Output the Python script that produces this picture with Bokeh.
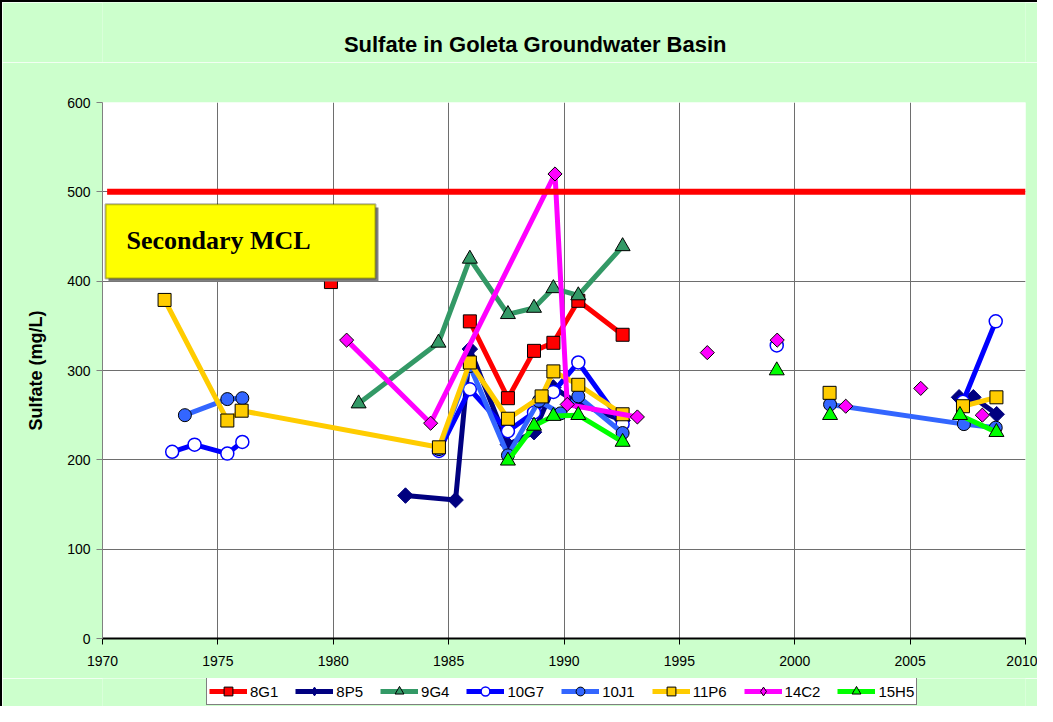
import math
from bokeh.plotting import figure
from bokeh.layouts import column
from bokeh.models import (Range1d, FixedTicker, Legend, LegendItem, BoxAnnotation, Label)
from bokeh.embed import file_html
from bokeh.resources import INLINE

nan = float("nan")

# ---------------- data ----------------
years_8G1 = [1979.9, nan, 1985.92, 1987.57, 1988.70, 1989.54, 1990.62, 1992.54]
so4_8G1 = [399, nan, 355, 269, 322, 331, 378, 340]

years_8P5 = [1983.13, 1985.30, 1985.92, 1987.57, 1988.70, 1989.54, 1990.62, 1992.54, nan, 2007.12, 2007.74, 2008.75]
so4_8P5 = [160, 155, 324, 217, 231, 281, 263, 244, nan, 270, 270, 251]

years_9G4 = [1981.10, 1984.56, 1985.92, 1987.57, 1988.70, 1989.54, 1990.62, 1992.54]
so4_9G4 = [263, 331, 425, 363, 370, 392, 384, 439]

years_10G7 = [1973.02, 1973.99, 1975.41, 1976.06, nan, 1984.58, 1985.92, 1987.57, 1988.70, 1989.54, 1990.62, 1992.54, nan, 1999.22, nan, 2007.29, 2008.71]
so4_10G7 = [209, 217, 207, 220, nan, 210, 279, 232, 253, 276, 309, 240, nan, 328, nan, 265, 355]

years_10J1 = [1973.57, 1975.41, 1976.06, nan, 1984.58, 1985.92, 1987.57, 1988.91, 1989.85, 1990.62, 1992.54, nan, 2001.53, 2007.33, 2008.71]
so4_10J1 = [250, 268, 269, nan, 212, 305, 205, 266, 252, 271, 230, nan, 262, 240, 236]

years_11P6 = [1972.69, 1975.41, 1976.03, 1984.58, 1985.92, 1987.57, 1989.03, 1989.54, 1990.62, 1992.54, nan, 2001.51, nan, 2007.29, 2008.74]
so4_11P6 = [379, 244, 255, 214, 309, 246, 271, 299, 284, 251, nan, 275, nan, 260, 270]

years_14C2 = [1980.58, 1984.22, 1989.61, 1990.14, 1993.18, nan, 1996.21, nan, 1999.24, nan, 2002.21, nan, 2005.46, nan, 2008.13]
so4_14C2 = [334, 241, 520, 262, 248, nan, 320, nan, 334, nan, 260, nan, 280, nan, 250]

years_15H5 = [1987.57, 1988.70, 1989.54, 1990.62, 1992.54, nan, 1999.22, nan, 2001.53, nan, 2007.16, 2008.74]
so4_15H5 = [199, 238, 249, 250, 220, nan, 300, nan, 250, nan, 250, 231]

mcl_years = [1970.2, 2010.0]
mcl_level = [500, 500]

x_ticks = [1970, 1975, 1980, 1985, 1990, 1995, 2000, 2005, 2010]
y_ticks = [0, 100, 200, 300, 400, 500, 600]

series = [
    # name, years, values, line colour, marker, legend marker, fill, outline, size, angle
    ("8G1", years_8G1, so4_8G1, "#FF0000", "square", "square", "#FF0000", "black", 13, 0.0),
    ("8P5", years_8P5, so4_8P5, "#000080", "square", "diamond", "#000080", "#000080", 11, math.pi / 4),
    ("9G4", years_9G4, so4_9G4, "#339966", "triangle", "triangle", "#339966", "black", 15, 0.0),
    ("10G7", years_10G7, so4_10G7, "#0000FF", "circle", "circle", "#FFFFFF", "#0000FF", 13, 0.0),
    ("10J1", years_10J1, so4_10J1, "#3366FF", "circle", "circle", "#3366FF", "black", 13, 0.0),
    ("11P6", years_11P6, so4_11P6, "#FFCC00", "square", "square", "#FFCC00", "black", 13, 0.0),
    ("14C2", years_14C2, so4_14C2, "#FF00FF", "square", "diamond", "#FF00FF", "black", 10, math.pi / 4),
    ("15H5", years_15H5, so4_15H5, "#00FF00", "triangle", "triangle", "#00FF00", "black", 15, 0.0),
]

TITLE = "Sulfate in Goleta Groundwater Basin"
Y_LABEL = "Sulfate (mg/L)"
MCL_NOTE = "Secondary MCL"

SANS = "Liberation Sans"
BG = "#CCFFCC"
W = 1035


def strip(height):
    s = figure(width=W, height=height, output_backend="svg", toolbar_location=None,
               x_range=Range1d(0, 1), y_range=Range1d(0, 1),
               x_axis_location=None, y_axis_location=None,
               min_border=0, min_border_left=0, min_border_right=0,
               min_border_top=0, min_border_bottom=0,
               background_fill_color=BG, border_fill_color=BG)
    s.outline_line_color = None
    s.grid.visible = False
    return s


# ---- title strip (its frame is aligned with the chart frame below) ----
pt = strip(60)
pt.add_layout(Label(x=0.4688, y=18 / 60, text=TITLE, text_font=SANS, text_font_size="22px",
                    text_font_style="bold", text_color="black",
                    text_align="center", text_baseline="middle"))

# ---- main chart ----
p = figure(width=W, height=616, output_backend="svg", toolbar_location=None,
           x_range=Range1d(1970, 2010), y_range=Range1d(0, 600),
           min_border_left=100, min_border_right=12, min_border_top=40, min_border_bottom=40,
           background_fill_color="white", border_fill_color=BG)
p.outline_line_color = None

p.xaxis.ticker = FixedTicker(ticks=x_ticks)
p.yaxis.ticker = FixedTicker(ticks=y_ticks)
for ax in (p.xaxis[0], p.yaxis[0]):
    ax.major_label_text_font = SANS
    ax.major_label_text_font_size = "14px"
    ax.major_label_text_color = "black"
    ax.minor_tick_line_color = None
    ax.major_tick_in = 0
    ax.major_tick_out = 6
p.xaxis.axis_line_color = "black"
p.xaxis.axis_line_width = 2
p.xaxis.major_tick_line_color = "black"
p.xaxis.major_label_standoff = 11
p.yaxis.axis_line_color = "#808080"
p.yaxis.major_tick_line_color = "#808080"
p.yaxis.major_label_standoff = 6
p.yaxis.axis_label = Y_LABEL
p.yaxis.axis_label_text_font = SANS
p.yaxis.axis_label_text_font_size = "18px"
p.yaxis.axis_label_text_font_style = "bold"
p.yaxis.axis_label_text_color = "black"
p.yaxis.axis_label_standoff = 18

p.xgrid.ticker = FixedTicker(ticks=x_ticks)
p.ygrid.ticker = FixedTicker(ticks=y_ticks)
p.xgrid.grid_line_color = "#6E6E6E"
p.ygrid.grid_line_color = "#6E6E6E"

# ---- legend strip ----
pl = strip(28)

items = []
for name, xs, ys, lc, mk, lmk, fc, oc, sz, ang in series:
    lw = 1.5 if name == "10G7" else 1
    p.line(xs, ys, line_color=lc, line_width=5)
    p.scatter(xs, ys, marker=mk, size=sz, angle=ang, fill_color=fc, line_color=oc, line_width=lw)
    # same series in the legend strip (outside its 0..1 view, only the legend glyphs show)
    lr = pl.line(xs, ys, line_color=lc, line_width=5)
    sr = pl.scatter(xs, ys, marker=lmk, size=sz, fill_color=fc, line_color=oc, line_width=lw)
    items.append(LegendItem(label=name, renderers=[lr, sr]))

# secondary MCL box with shadow and label
shadow = BoxAnnotation(left=1970.26, right=1981.96, bottom=399.5, top=482.5,
                       fill_color="#808080", fill_alpha=1, line_color=None)
box = BoxAnnotation(left=1970.13, right=1981.83, bottom=403, top=486,
                    fill_color="#FFFF00", fill_alpha=1, line_color="black", line_width=2)
p.add_layout(shadow)
p.add_layout(box)
p.add_layout(Label(x=1971.04, y=445, text=MCL_NOTE, text_font="Liberation Serif",
                   text_font_size="26px", text_font_style="bold", text_color="black",
                   text_baseline="alphabetic"))

p.line(mcl_years, mcl_level, line_color="#FF0000", line_width=6)

legend = Legend(items=items, orientation="horizontal", location=(104, 1),
                label_text_font=SANS, label_text_font_size="15px", label_text_color="black",
                glyph_width=38, glyph_height=22, label_height=22, label_standoff=3,
                spacing=17, padding=2, margin=0,
                border_line_color="black", border_line_width=1,
                background_fill_color="white", background_fill_alpha=1)
pl.add_layout(legend)

layout = column(pt, p, pl, spacing=0,
                styles={"border-left": "2px solid black", "border-top": "2px solid black"})

open("out.html", "w").write(file_html(layout, INLINE))
